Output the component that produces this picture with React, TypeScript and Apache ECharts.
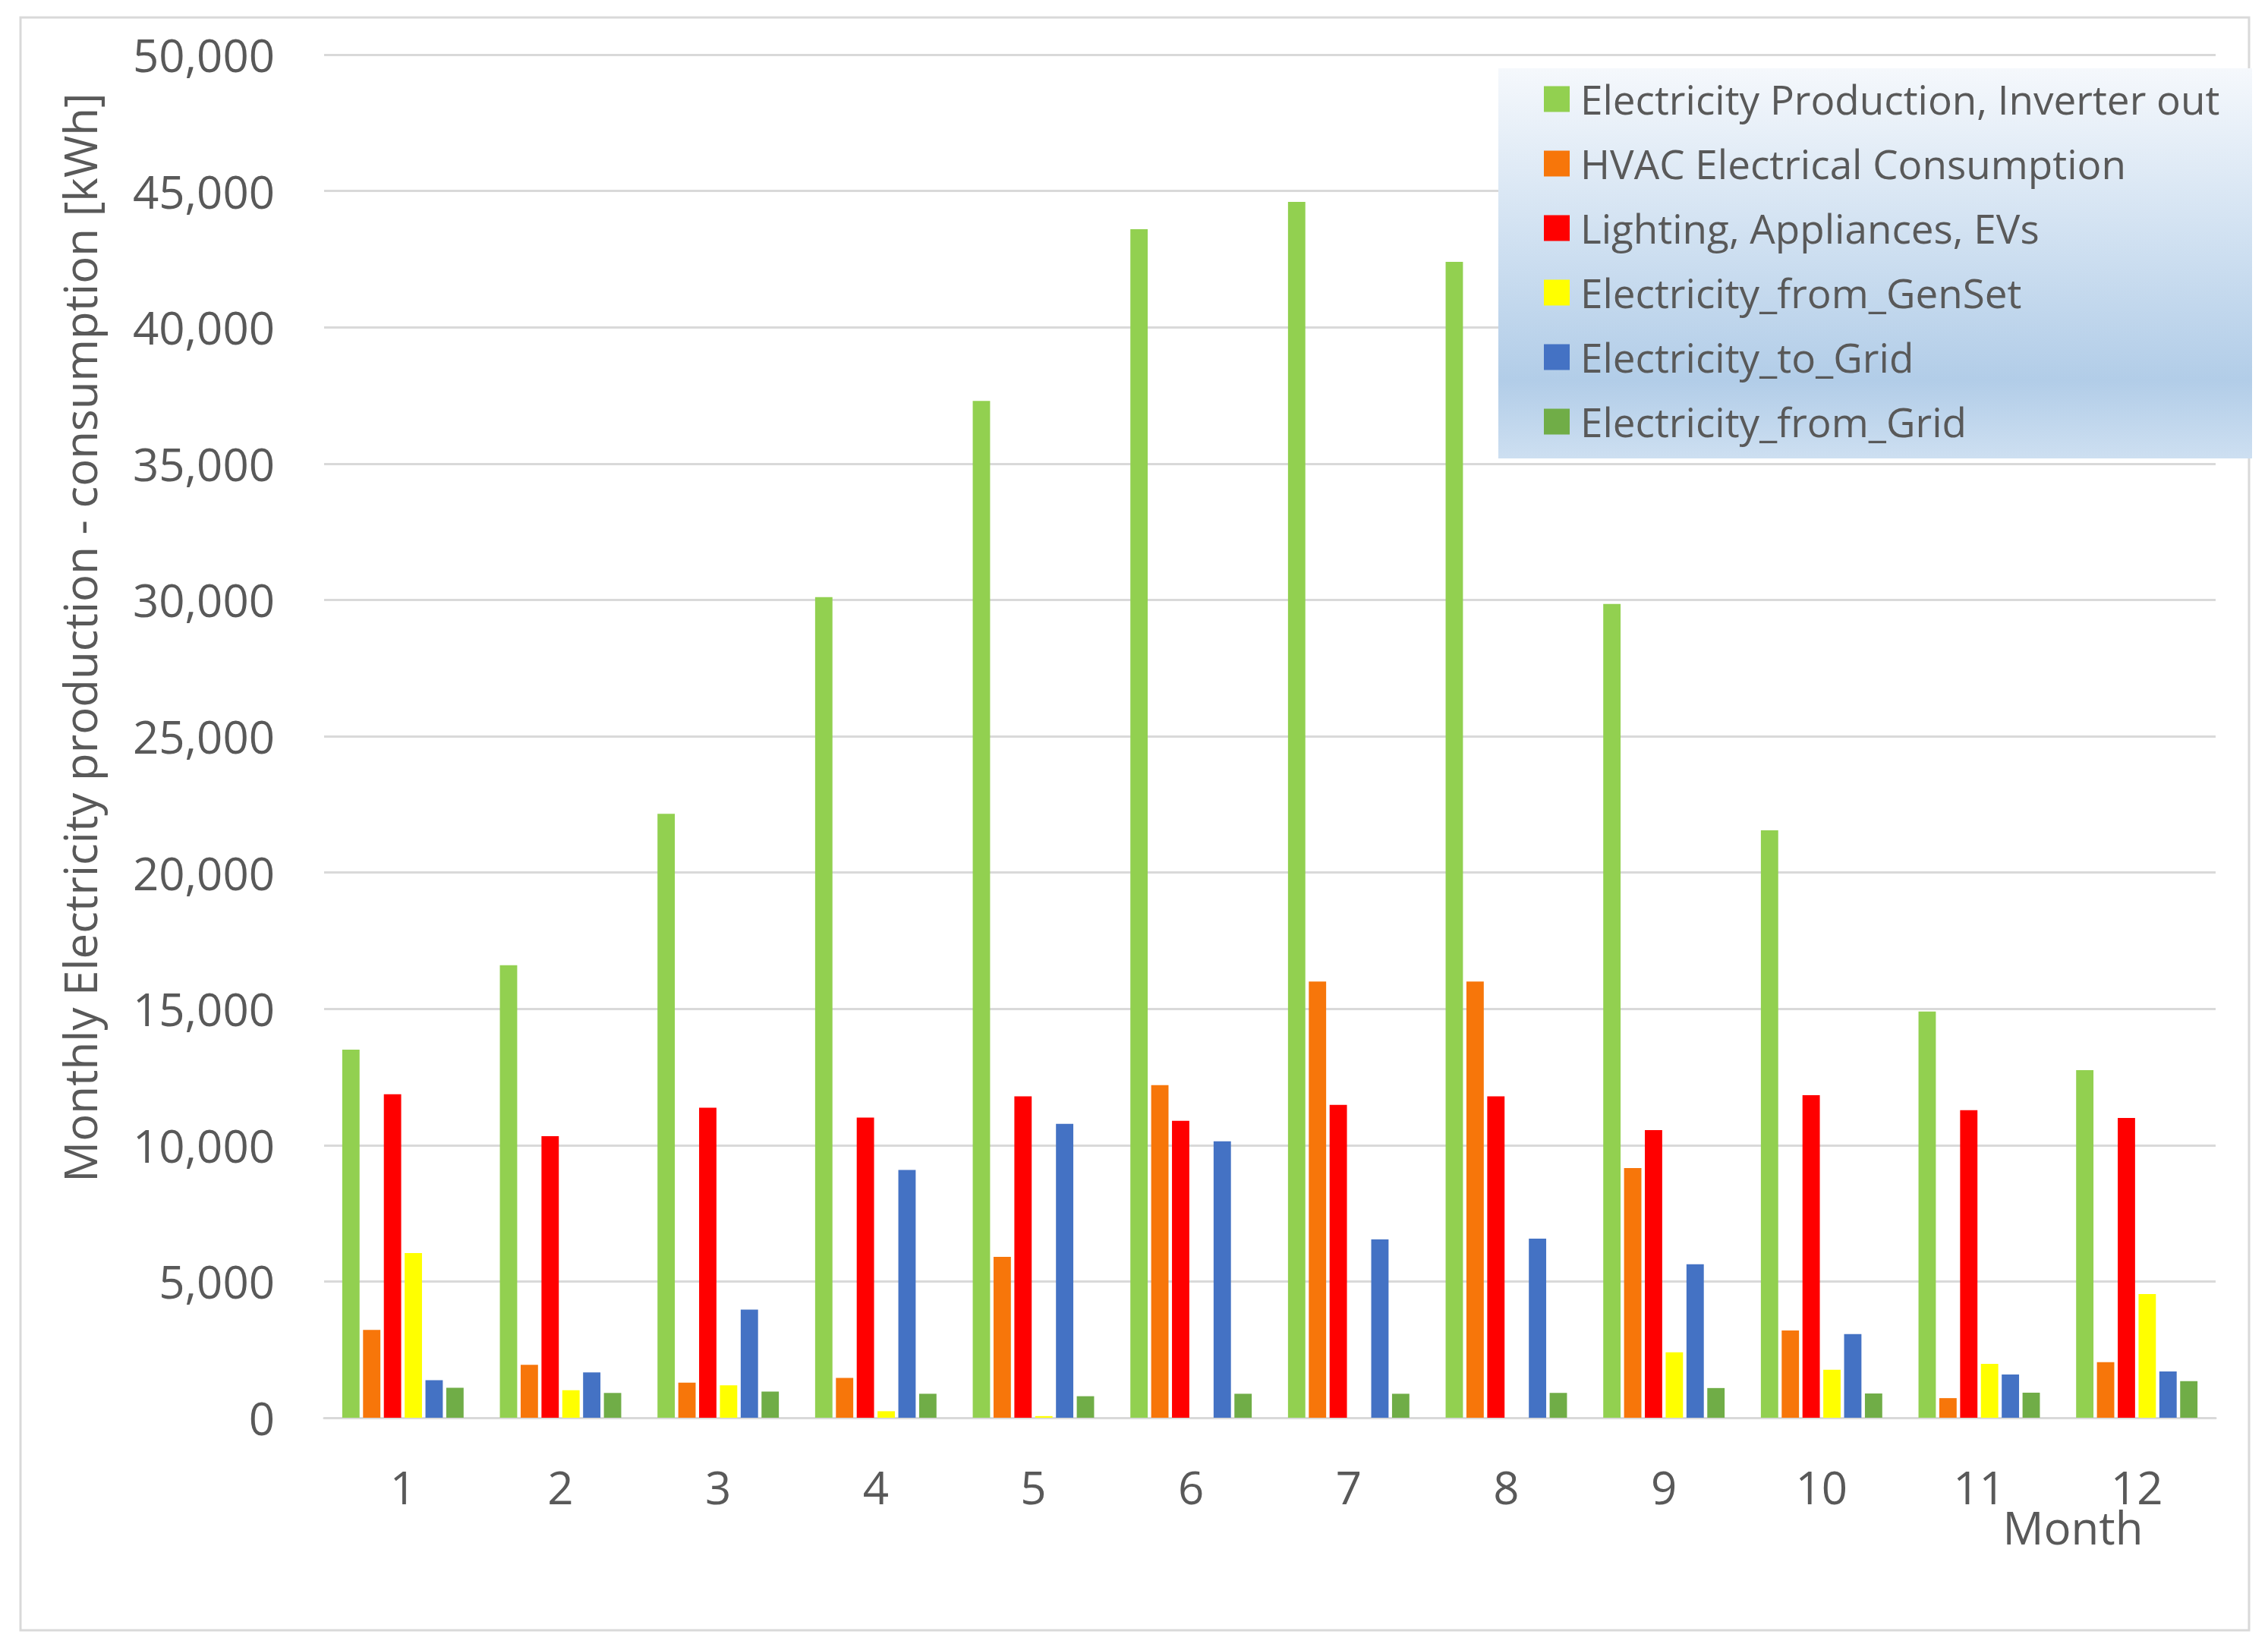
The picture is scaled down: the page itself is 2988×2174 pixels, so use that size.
import React, { useEffect, useRef } from "react";
import * as echarts from "echarts";

const months = ["1", "2", "3", "4", "5", "6", "7", "8", "9", "10", "11", "12"];
const seriesNames = [
  "Electricity Production, Inverter out",
  "HVAC Electrical Consumption",
  "Lighting, Appliances, EVs",
  "Electricity_from_GenSet",
  "Electricity_to_Grid",
  "Electricity_from_Grid",
];
const production = [13500, 16600, 22150, 30100, 37300, 43600, 44600, 42400, 29850, 21550, 14900, 12750];
const hvac = [3220, 1940, 1290, 1460, 5900, 12200, 16000, 16000, 9160, 3200, 720, 2040];
const lighting = [11870, 10330, 11370, 11010, 11790, 10890, 11480, 11790, 10550, 11830, 11280, 11000];
const genset = [6040, 1010, 1190, 240, 60, 0, 0, 0, 2400, 1760, 1980, 4540];
const toGrid = [1380, 1660, 3970, 9090, 10780, 10140, 6540, 6570, 5630, 3070, 1590, 1700];
const fromGrid = [1100, 910, 960, 880, 790, 880, 880, 910, 1090, 890, 920, 1340];
const colors = ["#92D050", "#F7760A", "#FF0000", "#FFFF00", "#4472C4", "#70AD47"];
const yTicks = { min: 0, max: 50000, interval: 5000 };
const yTitle = "Monthly Electricity production - consumption [kWh]";
const xTitle = "Month";

export default function App() {
  const ref = useRef<HTMLDivElement>(null);
  useEffect(() => {
    if (!ref.current) return;
    const chart = echarts.init(ref.current, undefined, { renderer: "svg" });
    const values = [production, hvac, lighting, genset, toGrid, fromGrid];
    const textColor = "#595959";
    const font = "'Open Sans', 'Noto Sans', sans-serif";
    chart.setOption({
      animation: false,
      backgroundColor: "#FFFFFF",
      textStyle: { fontFamily: font, color: textColor },
      color: colors,
      grid: {
        left: 427,
        right: 69,
        top: 72,
        bottom: 306,
        containLabel: false,
        outerBoundsMode: "none",
      },
      legend: {
        orient: "vertical",
        left: 2029,
        top: 99,
        itemWidth: 34,
        itemHeight: 34,
        itemGap: 32,
        icon: "rect",
        z: 6,
        data: seriesNames,
        textStyle: {
          fontFamily: font,
          fontSize: 53,
          color: textColor,
          lineHeight: 40,
          padding: [0, 0, 0, 9],
        },
      },
      xAxis: {
        type: "category",
        data: months,
        axisTick: { show: false },
        axisLine: { lineStyle: { color: "#D9D9D9", width: 3 } },
        axisLabel: { fontSize: 60, color: textColor, margin: 66, lineHeight: 50 },
      },
      yAxis: {
        type: "value",
        min: yTicks.min,
        max: yTicks.max,
        interval: yTicks.interval,
        axisLine: { show: false },
        axisTick: { show: false },
        splitLine: { lineStyle: { color: "#D9D9D9", width: 3 } },
        axisLabel: {
          fontSize: 60,
          color: textColor,
          margin: 65,
          formatter: (v: number) => v.toLocaleString("en-US"),
        },
      },
      graphic: [
        {
          type: "rect",
          z: 0,
          silent: true,
          shape: { x: 27, y: 23, width: 2936, height: 2125 },
          style: { fill: "none", stroke: "#D9D9D9", lineWidth: 3 },
        },
        {
          type: "rect",
          z: 5,
          silent: true,
          shape: { x: 1974, y: 90, width: 993, height: 514 },
          style: {
            fill: new echarts.graphic.LinearGradient(0, 0, 0, 1, [
              { offset: 0, color: "#F5F8FC" },
              { offset: 0.45, color: "#CFE0F1" },
              { offset: 0.8, color: "#B2CDE8" },
              { offset: 1, color: "#CDDFF1" },
            ]),
          },
        },
        {
          type: "text",
          x: 105,
          y: 840,
          rotation: Math.PI / 2,
          style: {
            text: yTitle,
            fontSize: 60,
            fontFamily: font,
            fill: textColor,
            align: "center",
            verticalAlign: "middle",
          },
        },
        {
          type: "text",
          x: 2731,
          y: 2012,
          style: {
            text: xTitle,
            fontSize: 60,
            lineHeight: 40,
            fontFamily: font,
            fill: textColor,
            align: "center",
            verticalAlign: "middle",
          },
        },
      ],
      series: seriesNames.map((name, i) => ({
        name,
        type: "bar",
        data: values[i],
        barGap: "20%",
        barCategoryGap: "23%",
        itemStyle: { color: colors[i] },
      })),
    });
    return () => chart.dispose();
  }, []);
  return (
    <div
      ref={ref}
      style={{ position: "absolute", left: 0, top: 0, width: 2988, height: 2174 }}
    />
  );
}
